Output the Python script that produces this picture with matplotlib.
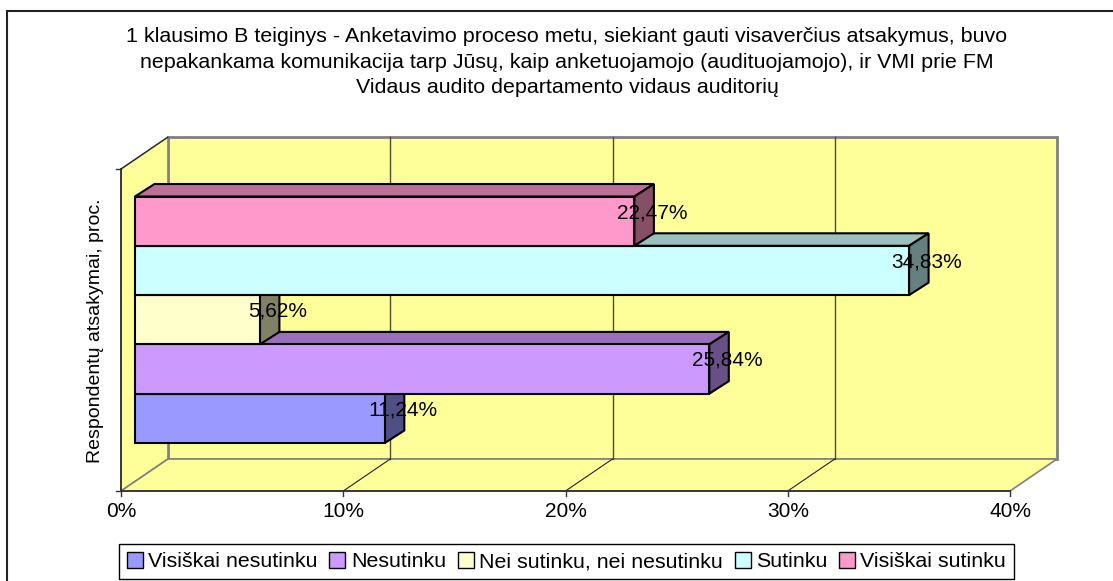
import matplotlib
matplotlib.use('Agg')
import matplotlib.pyplot as plt
from matplotlib.patches import Polygon, Rectangle

plt.rcParams['font.family'] = ['Liberation Sans', 'DejaVu Sans']

categories = ['Visiškai nesutinku', 'Nesutinku', 'Nei sutinku, nei nesutinku', 'Sutinku', 'Visiškai sutinku']
values = [11.24, 25.84, 5.62, 34.83, 22.47]
value_labels = ['11,24%', '25,84%', '5,62%', '34,83%', '22,47%']
front_colors = ['#9999ff', '#cc99ff', '#ffffcc', '#ccffff', '#ff99cc']
top_colors = ['#6a6ab0', '#9970b8', '#b0b08c', '#9cc0bf', '#bd7096']
side_colors = ['#4f4f85', '#684f85', '#808066', '#668080', '#855066']
x_ticks = [0, 10, 20, 30, 40]
x_ticklabels = ['0%', '10%', '20%', '30%', '40%']
title = ('1 klausimo B teiginys - Anketavimo proceso metu, siekiant gauti visaverčius atsakymus, buvo\n'
         'nepakankama komunikacija tarp Jūsų, kaip anketuojamojo (audituojamojo), ir VMI prie FM\n'
         'Vidaus audito departamento vidaus auditorių')
y_label = 'Respondentų atsakymai, proc.'

W, H = 1113, 581
PX_X = 40 / 889      # data units per pixel
PX_Y = 1 / 49.3
WALL_DX, WALL_DY = 47 * PX_X, 32 * PX_Y
BAR_DX, BAR_DY = 19.5 * PX_X, 12.5 * PX_Y
BAR_X0 = 14 * PX_X
BAR_Y0 = 48 * PX_Y
YMAX = 322 * PX_Y
WALL = '#ffff99'
GREY = '#808080'
FS = 15

fig = plt.figure(figsize=(W / 100, H / 100), dpi=100)
ax = fig.add_axes([121 / W, 1 - 491 / H, 889 / W, 322 / H])
ax.set_xlim(0, 40)
ax.set_ylim(0, YMAX)
ax.axis('off')

# outer chart frame, the right and bottom edges run off the picture
fig.add_artist(Rectangle((7 / W, -20 / H), 1200 / W, (20 + 570) / H, transform=fig.transFigure,
                         fc='white', ec='#222222', lw=1.5, zorder=-5))


def poly(points, fc, ec='black', lw=1.5, z=3):
    ax.add_patch(Polygon(points, closed=True, fc=fc, ec=ec, lw=lw, zorder=z,
                         clip_on=False, joinstyle='miter'))


# walls
poly([(WALL_DX, WALL_DY), (40 + WALL_DX, WALL_DY), (40 + WALL_DX, YMAX + WALL_DY), (WALL_DX, YMAX + WALL_DY)],
     WALL, GREY, 2, 1)
poly([(0, 0), (WALL_DX, WALL_DY), (WALL_DX, YMAX + WALL_DY), (0, YMAX)], WALL, GREY, 1.2, 1)
poly([(0, 0), (40, 0), (40 + WALL_DX, WALL_DY), (WALL_DX, WALL_DY)], WALL, GREY, 1.2, 1)

# gridlines over the walls
for t in x_ticks[1:-1]:
    ax.plot([t + WALL_DX, t + WALL_DX], [WALL_DY, YMAX + WALL_DY], color='#4d4d33', lw=1, zorder=2, clip_on=False)
    ax.plot([t, t + WALL_DX], [0, WALL_DY], color='#222222', lw=0.8, zorder=2, clip_on=False)

# axis lines and ticks
ax.plot([0, 40], [0, 0], color='#333333', lw=1.3, zorder=2, clip_on=False)
ax.plot([0, 0], [0, YMAX], color='#333333', lw=1.3, zorder=2, clip_on=False)
ax.plot([0, WALL_DX], [YMAX, YMAX + WALL_DY], color='#222222', lw=0.8, zorder=2, clip_on=False)
for t, lab in zip(x_ticks, x_ticklabels):
    ax.plot([t, t], [0, -5 * PX_Y], color='#333333', lw=1, clip_on=False)
    ax.text(t, -26 * PX_Y, lab, ha='center', va='baseline', fontsize=FS, color='black', clip_on=False)
for yy in [0, YMAX]:
    ax.plot([0, -5 * PX_X], [yy, yy], color='#333333', lw=1, clip_on=False)

# bars, bottom one first so each upper front hides the top face below it
for i in range(len(values)):
    x1 = BAR_X0 + values[i]
    y0 = BAR_Y0 + i
    y1 = y0 + 1
    poly([(BAR_X0, y1), (x1, y1), (x1 + BAR_DX, y1 + BAR_DY), (BAR_X0 + BAR_DX, y1 + BAR_DY)], top_colors[i], z=3 + i)
    poly([(x1, y0), (x1 + BAR_DX, y0 + BAR_DY), (x1 + BAR_DX, y1 + BAR_DY), (x1, y1)], side_colors[i], z=3 + i)
    poly([(BAR_X0, y0), (x1, y0), (x1, y1), (BAR_X0, y1)], front_colors[i], z=3 + i)

for i, lab in enumerate(value_labels):
    ax.text(BAR_X0 + values[i] + 18 * PX_X, BAR_Y0 + i + 0.675, lab, ha='center', va='center',
            fontsize=FS, color='black', zorder=20, clip_on=False)

fig.text(567 / W, 1 - 62 / H, title, ha='center', va='center', fontsize=15.4, linespacing=1.41)
fig.text(96 / W, 1 - 331 / H, y_label, rotation=90, ha='center', va='center', fontsize=14)

# legend
handles = [Rectangle((0, 0), 1, 1, fc=c, ec='black', lw=1) for c in front_colors]
fig.legend(handles, categories, loc='center', bbox_to_anchor=(566.5 / W, 1 - 561.5 / H), ncol=5,
           fontsize=15.4, frameon=True, fancybox=False, edgecolor='black', framealpha=1,
           handlelength=0.75, handleheight=0.75, handletextpad=0.25, columnspacing=0.55,
           borderpad=0.35, borderaxespad=0)

fig.savefig('out.png', dpi=100)
